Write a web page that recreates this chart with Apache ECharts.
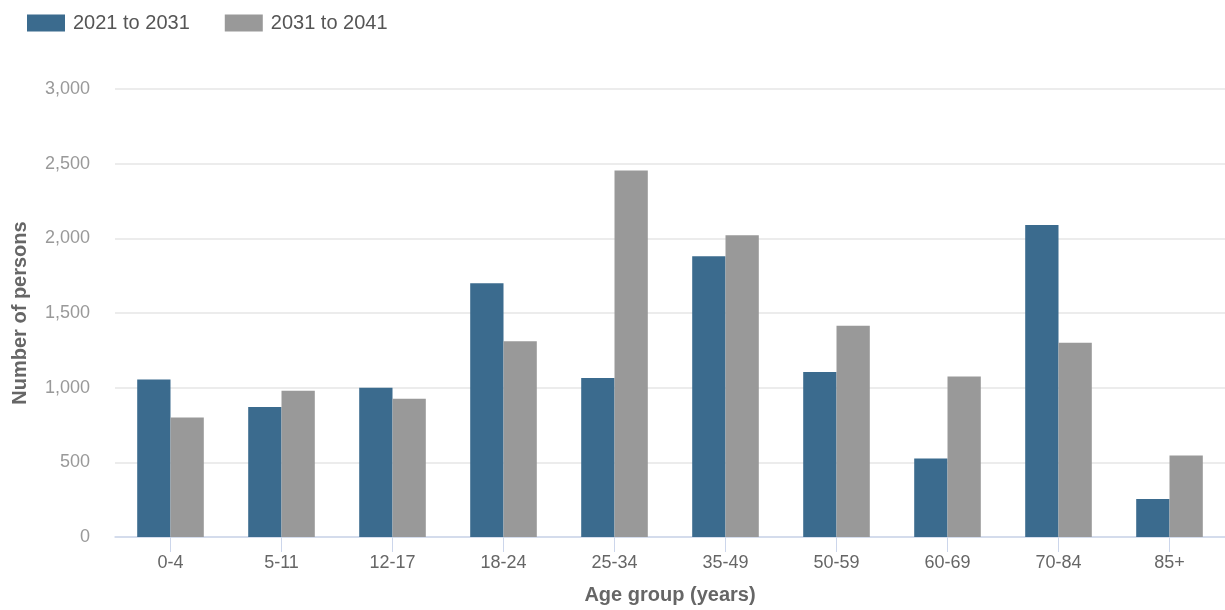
<!DOCTYPE html>
<html>
<head>
<meta charset="utf-8">
<script src="https://cdn.jsdelivr.net/npm/echarts@6/dist/echarts.min.js"></script>
<style>
html,body{margin:0;padding:0;background:#fff;}
#chart{width:1225px;height:610px;}
</style>
</head>
<body>
<div id="chart"></div>
<script>
const categories = ['0-4','5-11','12-17','18-24','25-34','35-49','50-59','60-69','70-84','85+'];
const series2021to2031 = [1055, 870, 1000, 1700, 1065, 1880, 1105, 525, 2090, 255];
const series2031to2041 = [800, 980, 925, 1310, 2455, 2020, 1415, 1075, 1300, 545];
const yTicks = { min: 0, max: 3000, interval: 500 };

const chart = echarts.init(document.getElementById('chart'));
chart.setOption({
  animation: false,
  backgroundColor: '#ffffff',
  textStyle: { fontFamily: 'Liberation Sans, Arial, sans-serif' },
  legend: {
    left: 22, top: 8,
    itemWidth: 38, itemHeight: 17, itemGap: 35,
    icon: 'rect',
    textStyle: { fontSize: 20, color: '#555555', padding: [0, 0, 0, 3] },
    data: ['2021 to 2031', '2031 to 2041']
  },
  grid: { left: 115, right: 0, top: 89, bottom: 71, containLabel: false },
  xAxis: {
    type: 'category',
    data: categories,
    name: 'Age group (years)',
    nameLocation: 'middle',
    nameGap: 48,
    nameTextStyle: { fontSize: 20, fontWeight: 'bold', color: '#666666' },
    axisLine: { show: true, lineStyle: { color: '#ccd6eb', width: 1.5 } },
    axisTick: { show: true, alignWithLabel: true, length: 15, lineStyle: { color: '#ccd6eb' } },
    axisLabel: { fontSize: 18, color: '#666666', margin: 17 },
    splitLine: { show: false }
  },
  yAxis: {
    type: 'value',
    min: yTicks.min, max: yTicks.max, interval: yTicks.interval,
    name: 'Number of persons',
    nameLocation: 'middle',
    nameGap: 85,
    nameTextStyle: { fontSize: 20, fontWeight: 'bold', color: '#666666' },
    axisLine: { show: false },
    axisTick: { show: false },
    axisLabel: {
      fontSize: 18, color: '#999999', margin: 25,
      formatter: v => v.toLocaleString('en-US')
    },
    splitLine: { lineStyle: { color: '#e6e6e6', width: 1.5 } }
  },
  series: [
    {
      name: '2021 to 2031', type: 'bar', data: series2021to2031,
      itemStyle: { color: '#3b6b8e' },
      barGap: '0%', barCategoryGap: '40%'
    },
    {
      name: '2031 to 2041', type: 'bar', data: series2031to2041,
      itemStyle: { color: '#999999' },
      barGap: '0%', barCategoryGap: '40%'
    }
  ]
});
</script>
</body>
</html>
